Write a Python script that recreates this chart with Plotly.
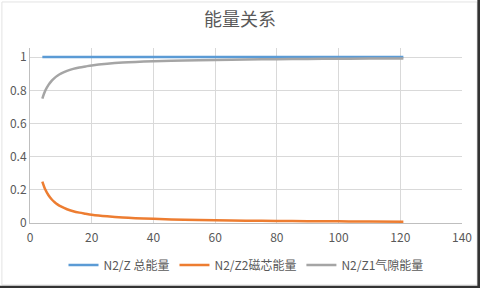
import plotly.graph_objects as go

x_vals = [4, 5, 6, 7, 8, 9, 10, 12, 14, 16, 18, 20, 25, 30, 40, 50, 60, 70, 80, 90, 100, 110, 121]
total_energy = [1.0] * len(x_vals)
core_energy = [0.25, 0.20, 0.167, 0.143, 0.125, 0.111, 0.10, 0.083, 0.071, 0.0625, 0.056, 0.05,
               0.04, 0.033, 0.025, 0.02, 0.017, 0.014, 0.0125, 0.011, 0.01, 0.009, 0.008]
gap_energy = [0.75, 0.80, 0.833, 0.857, 0.875, 0.889, 0.90, 0.917, 0.929, 0.9375, 0.944, 0.95,
              0.96, 0.967, 0.975, 0.98, 0.983, 0.986, 0.9875, 0.989, 0.99, 0.991, 0.992]

names = ["N2/Z 总能量", "N2/Z2磁芯能量", "N2/Z1气隙能量"]
colors = ["#5B9BD5", "#ED7D31", "#A5A5A5"]
x_ticks = [0, 20, 40, 60, 80, 100, 120, 140]
y_ticks = [0, 0.2, 0.4, 0.6, 0.8, 1]
y_labels = ["0", "0.2", "0.4", "0.6", "0.8", "1"]

font_family = "Microsoft YaHei, Noto Sans CJK SC, sans-serif"

fig = go.Figure()
for ys, name, c in zip([total_energy, core_energy, gap_energy], names, colors):
    fig.add_trace(go.Scatter(x=x_vals, y=ys, mode="lines", name=name,
                             line=dict(color=c, width=2.5, shape="spline")))

fig.update_layout(
    width=480, height=288,
    margin=dict(l=30, r=18, t=48, b=65, autoexpand=False),
    paper_bgcolor="white", plot_bgcolor="white",
    font=dict(family=font_family, color="#595959", size=11),
    title=dict(text="能量关系", x=0.5, xanchor="center", y=0.93, yanchor="middle",
               font=dict(size=18, color="#595959", family=font_family)),
    xaxis=dict(range=[0, 140], tickvals=x_ticks, showgrid=True, gridcolor="#D9D9D9",
               gridwidth=1, showline=True, linecolor="#BFBFBF", zeroline=False,
               ticks="", ticklabelstandoff=4, tickfont=dict(size=12, color="#595959")),
    yaxis=dict(range=[0, 1.055], tickvals=y_ticks, ticktext=y_labels, showgrid=True,
               gridcolor="#D9D9D9", gridwidth=1, showline=True, linecolor="#BFBFBF",
               zeroline=False, ticks="", tickfont=dict(size=12, color="#595959")),
    legend=dict(orientation="h", x=0.5, xanchor="center", y=0.08, yanchor="middle",
                yref="container", font=dict(size=12, color="#595959"), itemwidth=30,
                tracegroupgap=0),
    showlegend=True,
)

# frame
fig.add_shape(type="rect", xref="paper", yref="paper", x0=-0.065, x1=1.035, y0=-0.354, y1=1.263,
              line=dict(color="#E3E3E3", width=1))
fig.add_shape(type="line", xref="paper", yref="paper", x0=1.039, x1=1.039, y0=-0.38, y1=1.28,
              line=dict(color="#333333", width=3))
fig.add_shape(type="line", xref="paper", yref="paper", x0=-0.08, x1=1.05, y0=-0.367, y1=-0.367,
              line=dict(color="#333333", width=3))

fig.write_html("out.html")
